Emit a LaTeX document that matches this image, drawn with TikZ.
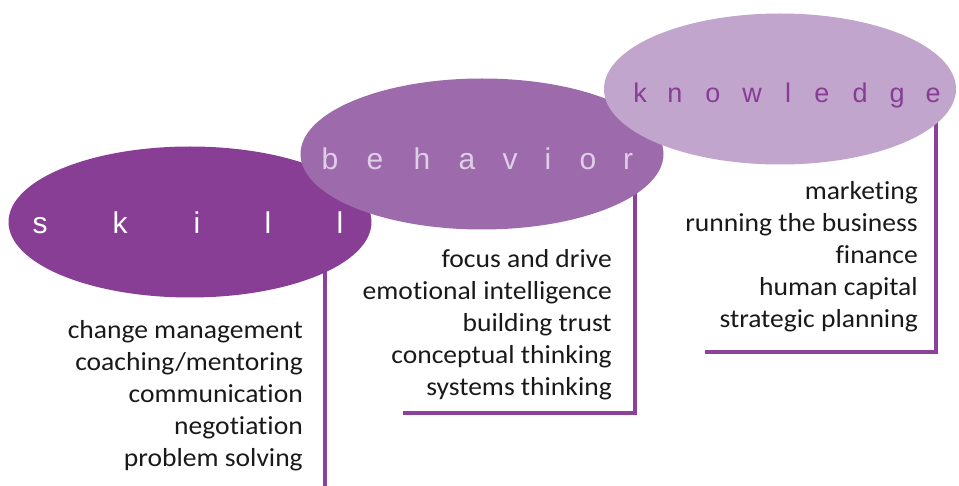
\documentclass[tikz,border=0pt]{standalone}
\usepackage{fontspec}
\setmainfont{Carlito}[Ligatures=NoCommon,FakeStretch=1.06]
\newfontfamily\labelfont{Liberation Sans}
\usepackage{tikz}
\usetikzlibrary{shapes.geometric}
\usetikzlibrary{backgrounds}
\usepackage{xcolor}
\definecolor{skillpurple}{RGB}{136,62,148}
\definecolor{behaviorpurple}{RGB}{157,106,172}
\definecolor{knowledgepurple}{RGB}{194,165,205}
\definecolor{behaviortext}{RGB}{222,207,230}
\definecolor{knowledgetext}{RGB}{135,60,150}
\definecolor{rulepurple}{RGB}{140,66,154}
\definecolor{listtext}{RGB}{25,25,25}
\tikzstyle{blob}=[ellipse,inner sep=0,outer sep=0,minimum width=363,minimum height=151]
\tikzstyle{letter}=[anchor=base,inner sep=0,font=\labelfont\fontsize{30}{30}\selectfont]
\tikzstyle{skill letter}=[letter,text=white]
\tikzstyle{behavior letter}=[letter,text=behaviortext]
\tikzstyle{knowledge letter}=[letter,text=knowledgetext,font=\labelfont\fontsize{27}{27}\selectfont]
\tikzstyle{list}=[anchor=north east,align=right,inner sep=0,text=listtext,font=\fontsize{26}{32}\selectfont]
\tikzstyle{rule}=[line width=3.2,rulepurple]

\begin{document}
\begin{tikzpicture}[x=1pt,y=-1pt]
		\useasboundingbox (0,0) rectangle (959,486);

		\node[blob,fill=skillpurple](skill) at (190,222){};
		\node[blob,fill=behaviorpurple](behavior) at (482,154){};
		\node[blob,fill=knowledgepurple,minimum width=352](knowledge) at (780,89){};

%skill letters
		\node[skill letter](s1) at (40,234){s};
		\node[skill letter](s2) at (120,234){k};
		\node[skill letter](s3) at (197,234){i};
		\node[skill letter](s4) at (268,234){l};
		\node[skill letter](s5) at (340,234){l};
%behavior letters
		\node[behavior letter](b1) at (330,170){b};
		\node[behavior letter](b2) at (375,170){e};
		\node[behavior letter](b3) at (422,170){h};
		\node[behavior letter](b4) at (467,170){a};
		\node[behavior letter](b5) at (510,170){v};
		\node[behavior letter](b6) at (548,170){i};
		\node[behavior letter](b7) at (588,170){o};
		\node[behavior letter](b8) at (628,170){r};
%knowledge letters
		\node[knowledge letter](k1) at (640,103){k};
		\node[knowledge letter](k2) at (675,103){n};
		\node[knowledge letter](k3) at (713,103){o};
		\node[knowledge letter](k4) at (752,103){w};
		\node[knowledge letter](k5) at (788,103){l};
		\node[knowledge letter](k6) at (822,103){e};
		\node[knowledge letter](k7) at (860,103){d};
		\node[knowledge letter](k8) at (897,103){g};
		\node[knowledge letter](k9) at (933,103){e};

%lists under each ellipse
		\node[list](skill list) at (303,320){change management\\coaching/mentoring\\communication\\negotiation\\problem solving};
		\node[list](behavior list) at (612,249){focus and drive\\emotional intelligence\\building trust\\conceptual thinking\\systems thinking};
		\node[list](knowledge list) at (918,181){marketing\\running the business\\finance\\human capital\\strategic planning};

		\coordinate (skill foot) at (325,492);
		\coordinate (behavior corner) at (635,413);
		\coordinate (behavior foot) at (403,413);
		\coordinate (knowledge corner) at (936,352);
		\coordinate (knowledge foot) at (705,352);

% rules go behind the ellipses
		\begin{pgfonlayer}{background}
		\draw[rule] (skill.center -| skill foot) -- (skill foot);
		\draw[rule] (behavior.center -| behavior corner) -- (behavior corner) -- (behavior foot);
		\draw[rule] (knowledge.center -| knowledge corner) -- (knowledge corner) -- (knowledge foot);
		\end{pgfonlayer}
	\end{tikzpicture}
\end{document}
